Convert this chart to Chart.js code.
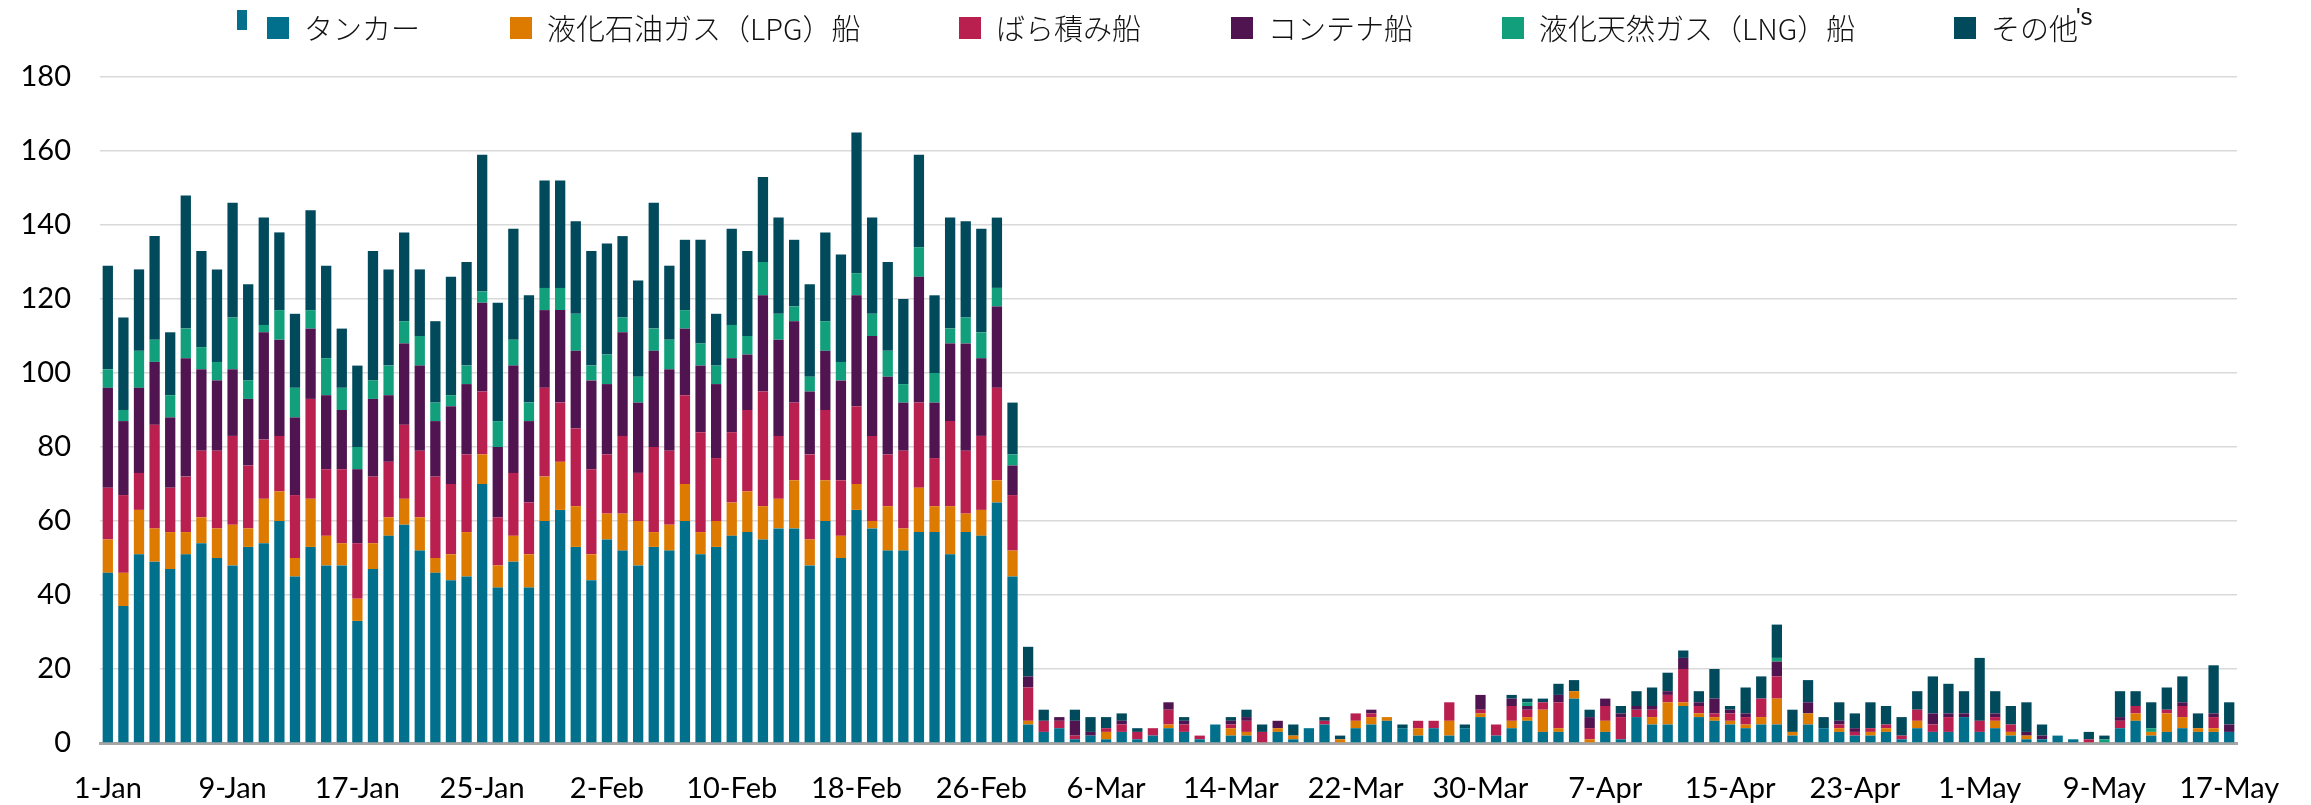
<!DOCTYPE html>
<html>
<head>
<meta charset="utf-8">
<script src="https://cdn.jsdelivr.net/npm/chart.js@4.4.1/dist/chart.umd.min.js"></script>
<style>
  html, body { margin: 0; padding: 0; background: #ffffff; }
  #wrap { position: relative; width: 2311px; height: 805px; overflow: hidden; }
  #wrap canvas { position: absolute; left: 0; top: 0; }
  .lg { position: absolute; font-family: "Noto Sans CJK JP", "Noto Sans", sans-serif; font-size: 29px; font-weight: 300; color: #111; white-space: nowrap; line-height: 1; }
  .sq { position: absolute; width: 22px; height: 22px; top: 17px; }
</style>
</head>
<body>
<div id="wrap">
  <canvas id="c" width="2311" height="805"></canvas>
  <div id="legend"></div>
</div>
<script>
// ---- Data ----
const monthNames = ["Jan", "Feb", "Mar", "Apr", "May"];
const monthDays = [31, 28, 31, 30, 17];
const categories = [];
monthNames.forEach((m, mi) => { for (let d = 1; d <= monthDays[mi]; d++) categories.push(d + "-" + m); });

const tickLabels = ["1-Jan","9-Jan","17-Jan","25-Jan","2-Feb","10-Feb","18-Feb","26-Feb","6-Mar","14-Mar","22-Mar","30-Mar","7-Apr","15-Apr","23-Apr","1-May","9-May","17-May"];

const seriesNames = ["タンカー", "液化石油ガス（LPG）船", "ばら積み船", "コンテナ船", "液化天然ガス（LNG）船", "その他"];
const seriesColors = ["#00708C", "#DD7A00", "#B91F4F", "#501450", "#12A07C", "#004A5C"];

const tanker = [
  46,37,51,49,47,51,54,50,48,53,54,60,45,53,48,48,33,47,56,59,52,46,44,45,70,42,49,42,60,63,53,
  44,55,52,48,53,52,60,51,53,56,57,55,58,58,48,60,50,63,58,52,52,57,57,51,57,56,65,45,
  5,3,4,1,2,1,3,1,2,4,3,1,5,2,2,0,3,1,4,5,0,4,5,6,4,2,4,2,4,7,2,
  4,6,3,3,12,0,3,1,7,5,5,10,7,6,5,4,5,5,2,5,4,3,2,2,3,1,4,3,3,7,
  3,4,2,1,1,2,1,0,0,4,6,2,3,4,3,3,3
];
const lpg = [
  9,9,12,9,10,6,7,8,11,5,12,8,5,13,8,6,6,7,5,7,9,4,7,12,8,6,7,9,12,13,11,
  7,7,10,12,4,7,10,6,7,9,11,9,8,13,7,11,6,7,2,12,6,12,7,13,5,7,6,7,
  1,0,0,0,0,2,0,0,0,1,0,0,0,2,1,0,1,1,0,0,1,2,2,1,0,2,0,4,0,1,0,
  2,1,6,1,2,1,3,0,0,2,6,1,1,1,1,1,2,7,1,3,0,1,0,1,1,0,2,0,0,0,
  0,2,1,1,0,0,0,0,0,0,2,1,5,3,1,1,0
];
const bulk = [
  14,21,10,28,12,15,18,21,24,17,16,15,17,27,18,20,15,18,15,20,18,22,19,21,17,13,17,14,24,16,21,
  23,16,21,13,23,20,24,27,17,19,22,31,17,21,23,19,15,21,23,14,21,23,13,23,17,20,25,15,
  9,3,2,1,0,1,2,2,2,4,2,1,0,1,3,3,0,0,0,1,0,2,1,0,0,2,2,5,0,1,3,
  4,2,2,7,0,3,4,6,2,2,2,9,2,1,2,2,5,6,0,0,0,1,1,1,1,1,3,2,4,0,
  3,1,2,0,0,0,0,1,0,2,2,0,1,3,0,3,0
];
const container = [
  27,20,23,17,19,32,22,19,18,18,29,26,21,19,20,16,20,21,18,22,23,15,21,19,24,19,29,22,21,25,21,
  24,19,28,19,26,22,18,18,20,20,15,26,26,22,17,16,27,30,27,21,13,34,15,21,29,21,22,8,
  3,0,1,4,1,0,1,0,0,2,1,0,0,1,1,0,2,0,0,0,0,0,1,0,0,0,0,0,0,4,0,
  2,1,0,2,0,3,2,1,1,1,1,3,1,4,1,1,0,4,0,3,0,1,1,0,0,0,0,3,1,1,
  0,1,0,1,1,0,0,0,0,1,0,0,0,1,0,1,2
];
const lng = [
  5,3,10,6,6,8,6,5,14,5,2,8,8,5,10,6,6,5,8,6,8,5,3,5,3,7,7,5,6,6,10,
  4,8,4,7,6,8,5,6,5,9,5,9,7,4,4,8,5,6,6,7,5,8,8,4,7,7,5,3,
  0,0,0,0,0,0,0,0,0,0,0,0,0,0,0,0,0,0,0,0,0,0,0,0,0,0,0,0,0,0,0,
  0,1,0,0,0,0,0,0,0,0,0,0,0,0,0,0,0,1,0,0,0,0,0,0,0,0,0,0,0,0,
  0,0,0,0,0,0,0,0,1,0,0,1,0,0,0,0,0
];
const others = [
  28,25,22,28,17,36,26,25,31,26,29,21,20,27,25,16,22,35,26,24,18,22,32,28,37,32,30,29,29,29,25,
  31,30,22,26,34,20,19,28,14,26,23,23,26,18,25,24,29,38,26,24,23,25,21,30,26,28,19,14,
  8,3,0,3,4,3,2,1,0,0,1,0,0,1,2,2,0,3,0,1,1,0,0,0,1,0,0,0,1,0,0,
  1,1,1,3,3,2,0,2,4,5,5,2,3,8,1,7,6,9,6,6,3,5,4,7,5,5,5,10,8,6,
  17,6,5,8,3,0,0,2,1,7,4,7,6,7,4,13,6
];
const seriesData = [tanker, lpg, bulk, container, lng, others];

// ---- Legend (HTML) ----
const legendX = [267, 510, 959, 1231, 1502, 1954];
const legend = document.getElementById('legend');
(function buildLegend() {
  const mark = document.createElement('div');
  mark.style.cssText = 'position:absolute;left:237px;top:10px;width:10px;height:20px;background:' + seriesColors[0];
  legend.appendChild(mark);
  seriesNames.forEach((name, i) => {
    const sq = document.createElement('div');
    sq.className = 'sq';
    sq.style.left = legendX[i] + 'px';
    sq.style.background = seriesColors[i];
    legend.appendChild(sq);
    const t = document.createElement('div');
    t.className = 'lg';
    t.style.left = (legendX[i] + 37) + 'px';
    t.style.top = '13px';
    t.textContent = name;
    legend.appendChild(t);
  });
  const s = document.createElement('div');
  s.className = 'lg';
  s.style.cssText += 'left:2076px;top:5px;font-size:24px;font-family:"Liberation Sans",Arial,sans-serif;font-weight:400;';
  s.textContent = "'s";
  legend.appendChild(s);
})();

// ---- Chart ----
const tickFont = { family: 'Lato, "Open Sans", sans-serif', size: 29 };
new Chart(document.getElementById('c'), {
  type: 'bar',
  data: {
    labels: categories,
    datasets: seriesNames.map((n, i) => ({
      label: n,
      data: seriesData[i],
      backgroundColor: seriesColors[i],
      borderWidth: 0,
      barPercentage: 0.66,
      categoryPercentage: 1.0
    }))
  },
  options: {
    responsive: false,
    animation: false,
    layout: { padding: { left: 0, right: 74, top: 77, bottom: 0 } },
    plugins: { legend: { display: false }, tooltip: { enabled: false } },
    scales: {
      x: {
        stacked: true,
        grid: { display: false, drawTicks: false },
        border: { display: true, color: '#a6a6a6', width: 3 },
        ticks: {
          autoSkip: false, maxRotation: 0, minRotation: 0, padding: 28,
          font: tickFont, color: '#000',
          callback: function (v, i) { const l = categories[i]; return tickLabels.includes(l) ? l : ''; }
        },
        afterFit: function (s) { s.height = 62; }
      },
      y: {
        stacked: true, min: 0, max: 180,
        ticks: { stepSize: 20, padding: 29, font: tickFont, color: '#000' },
        grid: { color: '#d9d9d9', lineWidth: 1.5, drawTicks: false },
        border: { display: false },
        afterFit: function (s) { s.width = 100; }
      }
    }
  }
});
</script>
</body>
</html>
